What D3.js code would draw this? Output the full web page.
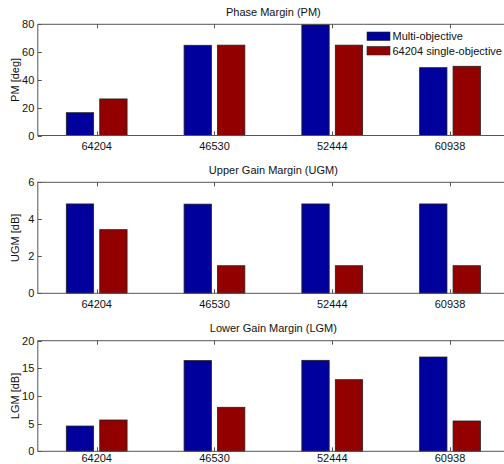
<!DOCTYPE html>
<html><head><meta charset="utf-8">
<script src="https://cdn.jsdelivr.net/npm/d3@7"></script>
<style>body{margin:0;background:#fff}svg{display:block}text{font-family:"Liberation Sans",Arial,sans-serif}</style>
</head><body>
<script>
const categories = ["64204","46530","52444","60938"];
const seriesNames = ["Multi-objective","64204 single-objective"];
const pmMulti = [16.4, 64.9, 79.7, 48.8];
const pmSingle = [26.3, 65.0, 65.0, 49.8];
const ugmMulti = [4.83, 4.82, 4.83, 4.83];
const ugmSingle = [3.44, 1.49, 1.49, 1.49];
const lgmMulti = [4.57, 16.4, 16.45, 17.05];
const lgmSingle = [5.66, 7.96, 12.95, 5.48];
const pmTicks = [0,20,40,60,80];
const ugmTicks = [0,2,4,6];
const lgmTicks = [0,5,10,15,20];

const colors = ["#00009c","#920000"];
const W=504,H=464;
const svg = d3.select("body").append("svg").attr("width",W).attr("height",H);

const x = d3.scaleLinear().domain([0.5,4.5]).range([37.8,508.9]);
const barW = 0.232, off = 0.142;

const panels = [
  {title:"Phase Margin (PM)", ylabel:"PM [deg]", a:pmMulti, b:pmSingle, ticks:pmTicks, top:24.3, bottom:135.5, legend:true},
  {title:"Upper Gain Margin (UGM)", ylabel:"UGM [dB]", a:ugmMulti, b:ugmSingle, ticks:ugmTicks, top:182.3, bottom:293.3},
  {title:"Lower Gain Margin (LGM)", ylabel:"LGM [dB]", a:lgmMulti, b:lgmSingle, ticks:lgmTicks, top:340.7, bottom:451.3}
];

panels.forEach(p=>{
  const y = d3.scaleLinear().domain([p.ticks[0], p.ticks[p.ticks.length-1]]).range([p.bottom,p.top]);
  const g = svg.append("g");
  [p.a,p.b].forEach((vals,si)=>{
    g.selectAll(null).data(vals).enter().append("rect")
      .attr("x",(d,i)=>x(i+1+(si===0?-off:off)-barW/2))
      .attr("width",x(barW)-x(0))
      .attr("y",d=>y(d)).attr("height",d=>y(0)-y(d))
      .attr("fill",colors[si]).attr("stroke","#222").attr("stroke-width",0.8);
  });
  g.append("rect").attr("x",x(0.5)).attr("y",p.top).attr("width",x(4.5)-x(0.5)).attr("height",p.bottom-p.top)
    .attr("fill","none").attr("stroke","#555").attr("stroke-width",1);
  const labY = Math.min(p.bottom+14.5, H-2);
  categories.forEach((c,i)=>{
    const xx = Math.round(x(i+1))+0.5;
    g.append("line").attr("x1",xx).attr("x2",xx).attr("y1",p.bottom).attr("y2",p.bottom-4).attr("stroke","#555");
    g.append("line").attr("x1",xx).attr("x2",xx).attr("y1",p.top).attr("y2",p.top+4).attr("stroke","#555");
    g.append("text").attr("x",x(i+1)).attr("y",labY).attr("text-anchor","middle").attr("font-size",11).attr("fill","#111").text(c);
  });
  p.ticks.forEach(t=>{
    const yy = Math.round(y(t))+0.5;
    g.append("line").attr("x1",x(0.5)).attr("x2",x(0.5)+4).attr("y1",yy).attr("y2",yy).attr("stroke","#555");
    g.append("text").attr("x",x(0.5)-3.5).attr("y",y(t)+4).attr("text-anchor","end").attr("font-size",11).attr("fill","#111").text(t);
  });
  g.append("text").attr("x",(x(0.5)+x(4.5))/2).attr("y",p.top-8.5).attr("text-anchor","middle").attr("font-size",11).attr("fill","#111").text(p.title);
  const cy=(p.top+p.bottom)/2;
  g.append("text").attr("transform",`translate(19,${cy}) rotate(-90)`).attr("text-anchor","middle").attr("font-size",11).attr("fill","#111").text(p.ylabel);
  if(p.legend){
    seriesNames.forEach((n,i)=>{
      const ly = 32 + i*14.5;
      g.append("rect").attr("x",367).attr("y",ly).attr("width",23).attr("height",8.5).attr("fill",colors[i]).attr("stroke","#222").attr("stroke-width",0.6);
      g.append("text").attr("x",392.5).attr("y",ly+8).attr("font-size",11).attr("fill","#111").text(n);
    });
  }
});
</script>
</body></html>
